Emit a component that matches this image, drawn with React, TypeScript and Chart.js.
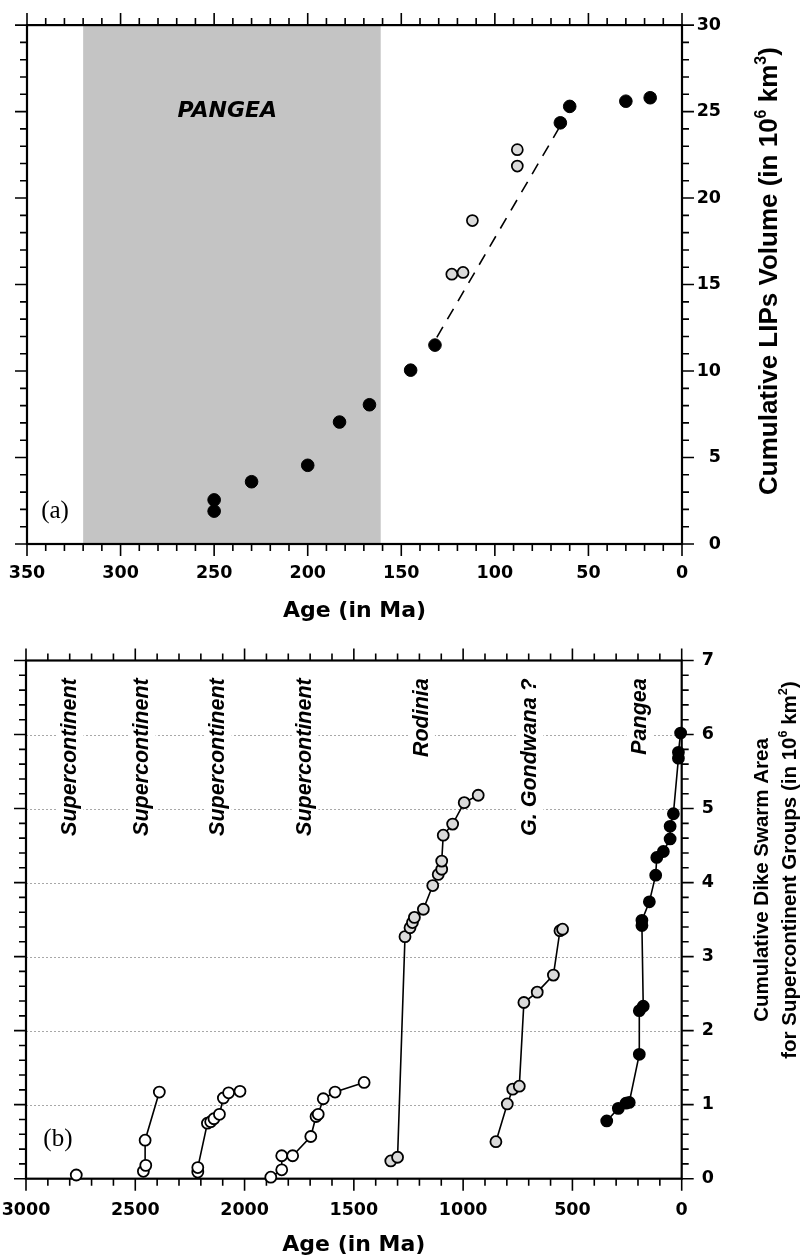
import React, { useEffect, useRef } from 'react';
import { Chart, registerables } from 'chart.js';

Chart.register(...registerables);

// ---------------- Panel (a): cumulative LIPs volume ----------------
const lipsBlackAge = [250, 250, 230, 200, 183, 167, 145, 132, 65, 60, 30, 17];
const lipsBlackVolume = [2.55, 1.9, 3.6, 4.55, 7.05, 8.05, 10.05, 11.5, 24.35, 25.3, 25.6, 25.8];
const lipsGrayAge = [88, 88, 112, 123, 117];
const lipsGrayVolume = [22.8, 21.85, 18.7, 15.6, 15.7];
const lipsTrendAge = [131, 66];
const lipsTrendVolume = [11.95, 24.0];
const pangeaShadeAge = [320, 161];
const ageTicksA = [0, 50, 100, 150, 200, 250, 300, 350];
const volumeTicks = [0, 5, 10, 15, 20, 25, 30];
const ageMinorA = 10;
const volumeMinor = 1;

// ---------------- Panel (b): cumulative dike swarm area ----------------
const lone2770Age = [2770];
const lone2770Area = [0.05];
const sc1Age = [2463, 2452, 2455, 2390];
const sc1Area = [0.1, 0.18, 0.52, 1.17];
const sc2Age = [2214, 2214, 2170, 2155, 2140, 2115, 2097, 2073, 2021];
const sc2Area = [0.09, 0.15, 0.75, 0.77, 0.81, 0.87, 1.09, 1.16, 1.18];
const sc3Age = [1880, 1830, 1830, 1780, 1697, 1673, 1663, 1640, 1586, 1453];
const sc3Area = [0.02, 0.12, 0.31, 0.31, 0.57, 0.84, 0.87, 1.08, 1.17, 1.3];
const rodiniaAge = [1331, 1300, 1266, 1243, 1232, 1223, 1182, 1139, 1114, 1098, 1098, 1091, 1048, 995, 931];
const rodiniaArea = [0.24, 0.29, 3.27, 3.39, 3.46, 3.53, 3.64, 3.96, 4.11, 4.18, 4.29, 4.64, 4.79, 5.08, 5.18];
const gondwanaAge = [850, 798, 773, 743, 722, 661, 587, 557, 545];
const gondwanaArea = [0.5, 1.01, 1.21, 1.25, 2.38, 2.52, 2.75, 3.35, 3.37];
const pangeaAge = [343, 290, 255, 240, 194, 194, 176, 182, 182, 148, 119, 114, 84, 53, 53, 38, 15, 15, 5];
const pangeaArea = [0.78, 0.95, 1.02, 1.03, 1.68, 2.27, 2.33, 3.42, 3.49, 3.74, 4.1, 4.34, 4.42, 4.59, 4.76, 4.93, 5.68, 5.76, 6.02];
const groupLabels = ['Supercontinent', 'Supercontinent', 'Supercontinent', 'Supercontinent', 'Rodinia', 'G. Gondwana ?', 'Pangea'];
const groupLabelAge = [2798, 2468, 2120, 1723, 1190, 694, 191];
const groupLabelTop = 6.76;
const ageTicksB = [0, 500, 1000, 1500, 2000, 2500, 3000];
const areaTicks = [0, 1, 2, 3, 4, 5, 6, 7];
const ageMinorB = 100;
const areaMinor = 0.2;

const TICK_FONT = { family: 'DejaVu Sans', weight: 'bold' as const, size: 17.5 };
const SANS = '"Liberation Sans", Arial, sans-serif';
const GRAY_FILL = '#dadada';

const pts = (xs: number[], ys: number[]) => xs.map((x, i) => ({ x, y: ys[i] }));
const fixedTicks = (values: number[]) => (scale: any) => {
  scale.ticks = values.map((v) => ({ value: v }));
};

function drawFrameAndTicks(chart: any, xMinor: number, xMajor: number, yMinor: number, yMajor: number) {
  const { ctx, chartArea: a } = chart;
  const xs = chart.scales.x;
  const ys = chart.scales.y;
  const isMajor = (v: number, m: number) => Math.abs(v / m - Math.round(v / m)) < 1e-6;
  ctx.save();
  ctx.strokeStyle = '#000';
  ctx.lineWidth = 1.6;
  const nx = Math.round((xs.max - xs.min) / xMinor);
  for (let i = 0; i <= nx; i++) {
    const v = xs.min + i * xMinor;
    const len = isMajor(v, xMajor) ? 12 : 7;
    const px = xs.getPixelForValue(v);
    ctx.beginPath();
    ctx.moveTo(px, a.top);
    ctx.lineTo(px, a.top - len);
    ctx.moveTo(px, a.bottom);
    ctx.lineTo(px, a.bottom + len);
    ctx.stroke();
  }
  const ny = Math.round((ys.max - ys.min) / yMinor);
  for (let i = 0; i <= ny; i++) {
    const v = ys.min + i * yMinor;
    const len = isMajor(v, yMajor) ? 12 : 7;
    const py = ys.getPixelForValue(v);
    ctx.beginPath();
    ctx.moveTo(a.left, py);
    ctx.lineTo(a.left - len, py);
    ctx.moveTo(a.right, py);
    ctx.lineTo(a.right + len, py);
    ctx.stroke();
  }
  ctx.lineWidth = 2.2;
  ctx.strokeRect(a.left, a.top, a.right - a.left, a.bottom - a.top);
  ctx.restore();
}

type Part = { t: string; sup?: boolean };
function drawRotatedRich(ctx: CanvasRenderingContext2D, parts: Part[], cx: number, cy: number, size: number) {
  ctx.save();
  const main = `bold ${size}px ${SANS}`;
  const sup = `bold ${size * 0.62}px ${SANS}`;
  const widths = parts.map((p) => {
    ctx.font = p.sup ? sup : main;
    return ctx.measureText(p.t).width;
  });
  const total = widths.reduce((s, w) => s + w, 0);
  ctx.translate(cx, cy);
  ctx.rotate(-Math.PI / 2);
  ctx.fillStyle = '#000';
  ctx.textAlign = 'left';
  ctx.textBaseline = 'middle';
  let x = -total / 2;
  parts.forEach((p, i) => {
    ctx.font = p.sup ? sup : main;
    ctx.fillText(p.t, x, p.sup ? -size * 0.34 : 0);
    x += widths[i];
  });
  ctx.restore();
}

function drawVerticalLabel(ctx: CanvasRenderingContext2D, text: string, x: number, yTop: number, size: number) {
  ctx.save();
  ctx.font = `italic bold ${size}px ${SANS}`;
  const w = ctx.measureText(text).width;
  ctx.translate(x, yTop);
  ctx.rotate(-Math.PI / 2);
  ctx.fillStyle = '#fff';
  ctx.fillRect(-w - 4, -size * 0.62, w + 8, size * 1.24);
  ctx.fillStyle = '#000';
  ctx.textAlign = 'right';
  ctx.textBaseline = 'middle';
  ctx.fillText(text, 0, 0);
  ctx.restore();
}

const hiddenAxis = (pos: string, min: number, max: number, reverse: boolean, size: number, horizontal: boolean) => ({
  type: 'linear',
  position: pos,
  min,
  max,
  reverse,
  afterFit: (s: any) => {
    if (horizontal) s.height = size;
    else s.width = size;
  },
  grid: { display: false, drawTicks: false },
  border: { display: false },
  ticks: { display: false },
});

function configA(): any {
  const plugin = {
    id: 'panelA',
    beforeDatasetsDraw(chart: any) {
      const { ctx, chartArea: a } = chart;
      const xs = chart.scales.x;
      const ys = chart.scales.y;
      ctx.save();
      const x1 = xs.getPixelForValue(pangeaShadeAge[0]);
      const x2 = xs.getPixelForValue(pangeaShadeAge[1]);
      ctx.fillStyle = '#c4c4c4';
      ctx.fillRect(x1, a.top, x2 - x1, a.bottom - a.top);
      ctx.fillStyle = '#000';
      ctx.textAlign = 'center';
      ctx.textBaseline = 'middle';
      ctx.font = 'italic bold 22px "DejaVu Sans"';
      ctx.fillText('PANGEA', xs.getPixelForValue(243), ys.getPixelForValue(25.0));
      ctx.font = '25px "Liberation Serif", "Times New Roman", serif';
      ctx.fillText('(a)', xs.getPixelForValue(335), ys.getPixelForValue(1.9));
      ctx.restore();
      drawFrameAndTicks(chart, ageMinorA, 50, volumeMinor, 5);
    },
    afterDraw(chart: any) {
      const { ctx, chartArea: a } = chart;
      ctx.save();
      ctx.fillStyle = '#000';
      ctx.font = 'bold 22px "DejaVu Sans"';
      ctx.textAlign = 'center';
      ctx.textBaseline = 'alphabetic';
      ctx.fillText('Age (in Ma)', (a.left + a.right) / 2, a.bottom + 72.5);
      ctx.restore();
      drawRotatedRich(
        ctx,
        [{ t: 'Cumulative LIPs Volume (in 10' }, { t: '6', sup: true }, { t: ' km' }, { t: '3', sup: true }, { t: ')' }],
        770,
        271,
        26
      );
    },
  };
  return {
    type: 'scatter',
    data: {
      datasets: [
        {
          data: pts(lipsBlackAge, lipsBlackVolume),
          pointRadius: 6.3,
          pointBackgroundColor: '#000',
          pointBorderColor: '#000',
          pointBorderWidth: 1,
          clip: false,
        },
        {
          data: pts(lipsGrayAge, lipsGrayVolume),
          pointRadius: 5.5,
          pointBackgroundColor: GRAY_FILL,
          pointBorderColor: '#000',
          pointBorderWidth: 1.7,
          clip: false,
        },
        {
          data: pts(lipsTrendAge, lipsTrendVolume),
          showLine: true,
          borderColor: '#000',
          borderWidth: 1.6,
          borderDash: [12, 9],
          pointRadius: 0,
          fill: false,
        },
      ],
    },
    options: {
      responsive: false,
      animation: false,
      devicePixelRatio: 1,
      events: [],
      layout: { padding: { left: 0, top: 0, bottom: 0, right: 84 } },
      plugins: { legend: { display: false }, tooltip: { enabled: false }, title: { display: false } },
      scales: {
        x: {
          type: 'linear',
          position: 'bottom',
          reverse: true,
          min: 0,
          max: 350,
          afterBuildTicks: fixedTicks(ageTicksA),
          afterFit: (s: any) => {
            s.height = 86;
          },
          grid: { display: false, drawTicks: false },
          border: { display: false },
          ticks: { font: TICK_FONT, color: '#000', padding: 18.5, maxRotation: 0, minRotation: 0, autoSkip: false, callback: (v: any) => String(v) },
        },
        xTop: hiddenAxis('top', 0, 350, true, 20.7, true),
        y: {
          type: 'linear',
          position: 'right',
          min: 0,
          max: 30,
          afterBuildTicks: fixedTicks(volumeTicks),
          afterFit: (s: any) => {
            s.width = 39;
          },
          grid: { display: false, drawTicks: false },
          border: { display: false },
          ticks: { font: TICK_FONT, color: '#000', padding: 14.6, crossAlign: 'far', autoSkip: false, callback: (v: any) => String(v) },
        },
        yLeft: hiddenAxis('left', 0, 30, false, 27, false),
      },
    },
    plugins: [plugin],
  };
}

function configB(): any {
  const plugin = {
    id: 'panelB',
    beforeDatasetsDraw(chart: any) {
      const { ctx, chartArea: a } = chart;
      const xs = chart.scales.x;
      const ys = chart.scales.y;
      ctx.save();
      ctx.strokeStyle = '#a8a8a8';
      ctx.lineWidth = 1;
      ctx.setLineDash([2, 2]);
      areaTicks.forEach((v) => {
        if (v <= ys.min || v >= ys.max) return;
        const py = Math.round(ys.getPixelForValue(v)) + 0.5;
        ctx.beginPath();
        ctx.moveTo(a.left, py);
        ctx.lineTo(a.right, py);
        ctx.stroke();
      });
      ctx.setLineDash([]);
      ctx.restore();
      groupLabels.forEach((t, i) => {
        drawVerticalLabel(ctx, t, xs.getPixelForValue(groupLabelAge[i]), ys.getPixelForValue(groupLabelTop), 21.5);
      });
      ctx.save();
      ctx.fillStyle = '#000';
      ctx.textAlign = 'center';
      ctx.textBaseline = 'middle';
      ctx.font = '25px "Liberation Serif", "Times New Roman", serif';
      ctx.fillText('(b)', xs.getPixelForValue(2854), ys.getPixelForValue(0.53));
      ctx.restore();
      drawFrameAndTicks(chart, ageMinorB, 500, areaMinor, 1);
    },
    afterDraw(chart: any) {
      const { ctx, chartArea: a } = chart;
      ctx.save();
      ctx.fillStyle = '#000';
      ctx.font = 'bold 22px "DejaVu Sans"';
      ctx.textAlign = 'center';
      ctx.textBaseline = 'alphabetic';
      ctx.fillText('Age (in Ma)', (a.left + a.right) / 2, a.bottom + 72.5);
      ctx.restore();
      drawRotatedRich(ctx, [{ t: 'Cumulative Dike Swarm Area' }], 762, 880 - 630, 20.5);
      drawRotatedRich(
        ctx,
        [{ t: 'for Supercontinent Groups (in 10' }, { t: '6', sup: true }, { t: ' km' }, { t: '2', sup: true }, { t: ')' }],
        790,
        870 - 630,
        20.5
      );
    },
  };
  const series = (xs: number[], ys: number[], fill: string, line: boolean) => ({
    data: pts(xs, ys),
    showLine: line,
    borderColor: '#000',
    borderWidth: 1.6,
    pointRadius: 5.5,
    pointBackgroundColor: fill,
    pointBorderColor: '#000',
    pointBorderWidth: 1.8,
    clip: false,
  });
  return {
    type: 'scatter',
    data: {
      datasets: [
        series(pangeaAge, pangeaArea, '#000', true),
        series(gondwanaAge, gondwanaArea, GRAY_FILL, true),
        series(rodiniaAge, rodiniaArea, GRAY_FILL, true),
        series(sc3Age, sc3Area, '#fff', true),
        series(sc2Age, sc2Area, '#fff', true),
        series(sc1Age, sc1Area, '#fff', true),
        series(lone2770Age, lone2770Area, '#fff', false),
      ],
    },
    options: {
      responsive: false,
      animation: false,
      devicePixelRatio: 1,
      events: [],
      layout: { padding: { left: 0, top: 0, bottom: 0, right: 91 } },
      plugins: { legend: { display: false }, tooltip: { enabled: false }, title: { display: false } },
      scales: {
        x: {
          type: 'linear',
          position: 'bottom',
          reverse: true,
          min: 0,
          max: 3000,
          afterBuildTicks: fixedTicks(ageTicksB),
          afterFit: (s: any) => {
            s.height = 80.3;
          },
          grid: { display: false, drawTicks: false },
          border: { display: false },
          ticks: { font: TICK_FONT, color: '#000', padding: 21.5, maxRotation: 0, minRotation: 0, autoSkip: false, callback: (v: any) => String(v) },
        },
        xTop: hiddenAxis('top', 0, 3000, true, 24, true),
        y: {
          type: 'linear',
          position: 'right',
          min: 0,
          max: 7,
          afterBuildTicks: fixedTicks(areaTicks),
          afterFit: (s: any) => {
            s.width = 32.3;
          },
          grid: { display: false, drawTicks: false },
          border: { display: false },
          ticks: { font: TICK_FONT, color: '#000', padding: 20, crossAlign: 'far', autoSkip: false, callback: (v: any) => String(v) },
        },
        yLeft: hiddenAxis('left', 0, 7, false, 26, false),
      },
    },
    plugins: [plugin],
  };
}

export default function App() {
  const topRef = useRef<HTMLCanvasElement>(null);
  const botRef = useRef<HTMLCanvasElement>(null);
  useEffect(() => {
    const c1 = new Chart(topRef.current as HTMLCanvasElement, configA());
    const c2 = new Chart(botRef.current as HTMLCanvasElement, configB());
    return () => {
      c1.destroy();
      c2.destroy();
    };
  }, []);
  return (
    <div style={{ position: 'absolute', left: 0, top: 0, width: 805, height: 1259, background: '#fff' }}>
      <canvas ref={topRef} width={805} height={630} style={{ position: 'absolute', left: 0, top: 0, width: 805, height: 630 }} />
      <canvas ref={botRef} width={805} height={629} style={{ position: 'absolute', left: 0, top: 630, width: 805, height: 629 }} />
    </div>
  );
}
